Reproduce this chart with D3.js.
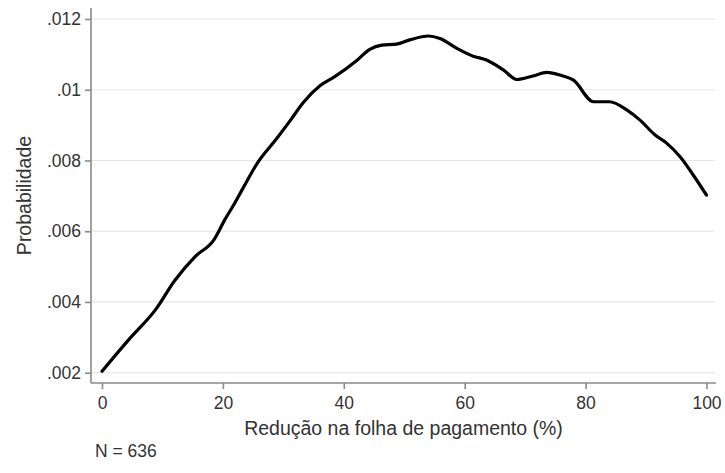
<!DOCTYPE html>
<html>
<head>
<meta charset="utf-8">
<script src="https://cdn.jsdelivr.net/npm/d3@7"></script>
<style>
  html, body { margin: 0; padding: 0; background: #fff; }
  svg { display: block; }
  text { font-family: "Liberation Sans", Arial, sans-serif; fill: #333; }
</style>
</head>
<body>
<svg id="chart" width="725" height="473"></svg>
<script>
// Kernel-style curve: probability vs payroll reduction (%)

const reducao = [0, 4.5, 8.8, 12.1, 15.4, 18.6, 20.3, 21.7, 23.4, 25.6, 28.9, 31.1, 33.3,
  36.1, 38.5, 42.1, 44.3, 46.3, 48.7, 50.9, 54.0, 55.9, 58.7, 61.4, 63.6, 66.4, 68.6,
  71.3, 73.6, 76.0, 78.0, 81.3, 84.0, 86.8, 89.0, 91.5, 93.4, 95.6, 97.8, 100];
const probabilidade = [0.00204, 0.00295, 0.00377, 0.00462, 0.00528, 0.00578, 0.00632,
  0.00672, 0.00724, 0.00790, 0.00862, 0.00912, 0.00964, 0.01012, 0.01037, 0.01082,
  0.01114, 0.01126, 0.01129, 0.01141, 0.01152, 0.01145, 0.01117, 0.01095, 0.01084,
  0.01056, 0.01029, 0.01039, 0.01049, 0.01040, 0.01027, 0.00966, 0.00966, 0.00943,
  0.00914, 0.00872, 0.00849, 0.00811, 0.00759, 0.00702];

const xTicks = [0, 20, 40, 60, 80, 100];
const yTicks = [0.002, 0.004, 0.006, 0.008, 0.01, 0.012];
const yTickLabels = [".002", ".004", ".006", ".008", ".01", ".012"];

const PLOT_L = 91, PLOT_R = 716, PLOT_T = 8, PLOT_B = 383;
const FONT = 17.5, TITLE_FONT = 19.5;

const svg = d3.select("#chart");

const x = d3.scaleLinear().domain([0, 100]).range([102, 706.5]);
const y = d3.scaleLinear().domain([0.002, 0.012]).range([372.7, 19]);

// grid
svg.append("g").selectAll("line").data(yTicks).enter().append("line")
  .attr("x1", PLOT_L).attr("x2", PLOT_R - 1)
  .attr("y1", (d) => y(d)).attr("y2", (d) => y(d))
  .attr("stroke", "#e6e6e6").attr("stroke-width", 1.2);

// y axis
const yAxis = svg.append("g").attr("transform", `translate(${PLOT_L},0)`)
  .call(d3.axisLeft(y).tickValues(yTicks).tickSize(6).tickPadding(4)
    .tickFormat((d, i) => yTickLabels[i]));
yAxis.select(".domain").remove();
yAxis.append("line").attr("x1", 0).attr("x2", 0).attr("y1", PLOT_T).attr("y2", PLOT_B);

// x axis
const xAxis = svg.append("g").attr("transform", `translate(0,${PLOT_B})`)
  .call(d3.axisBottom(x).tickValues(xTicks).tickSize(6).tickPadding(8));
xAxis.select(".domain").remove();
xAxis.append("line").attr("x1", PLOT_L).attr("x2", PLOT_R).attr("y1", 0).attr("y2", 0);

[yAxis, xAxis].forEach((a) => {
  a.selectAll("line").attr("stroke", "#8a8a8a").attr("stroke-width", 1.6);
  a.selectAll("text").style("font-size", FONT + "px")
    .style("font-family", "'Liberation Sans', Arial, sans-serif").attr("fill", "#333");
});

// curve
const pts = reducao.map((r, i) => [r, probabilidade[i]]);
svg.append("path").datum(pts)
  .attr("fill", "none").attr("stroke", "#000").attr("stroke-width", 3.2)
  .attr("stroke-linejoin", "round").attr("stroke-linecap", "round")
  .attr("d", d3.line().x((d) => x(d[0])).y((d) => y(d[1])).curve(d3.curveMonotoneX));

// titles
svg.append("text").attr("x", (PLOT_L + PLOT_R) / 2).attr("y", 435)
  .attr("text-anchor", "middle").style("font-size", TITLE_FONT + "px")
  .text("Redução na folha de pagamento (%)");

svg.append("text").attr("transform", `translate(31,${(PLOT_T + PLOT_B) / 2}) rotate(-90)`)
  .attr("text-anchor", "middle").style("font-size", TITLE_FONT + "px")
  .text("Probabilidade");

svg.append("text").attr("x", 95).attr("y", 457).style("font-size", FONT + "px")
  .text("N = 636");
</script>
</body>
</html>
